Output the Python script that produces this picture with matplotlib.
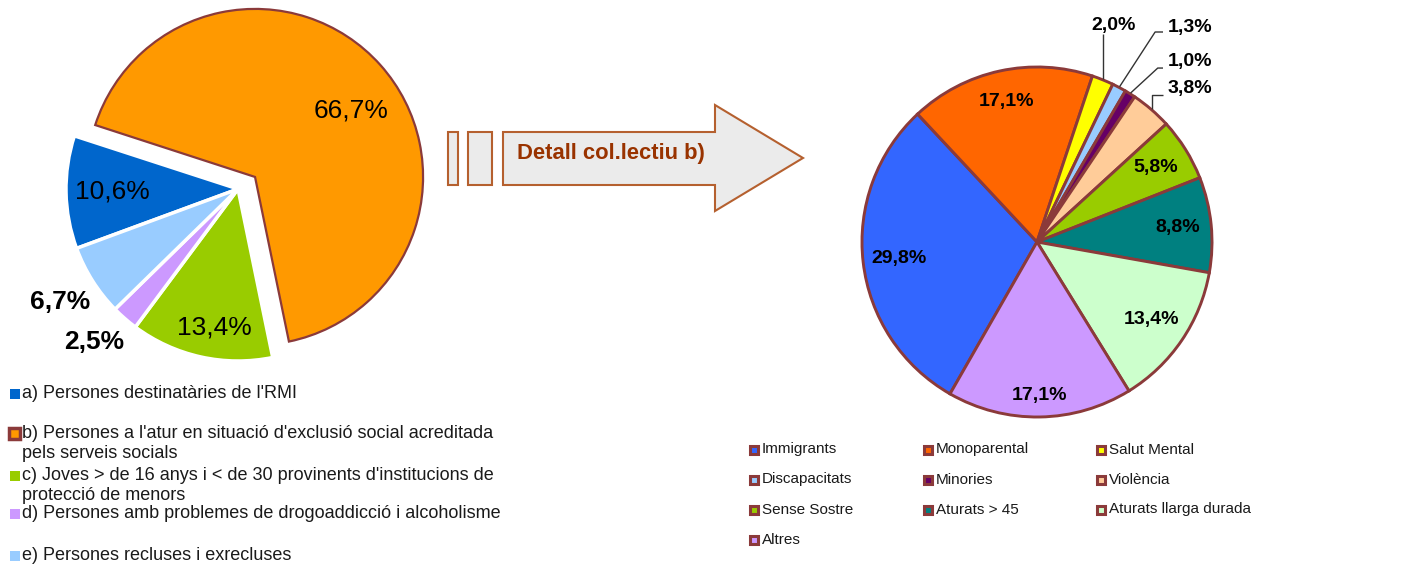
import matplotlib
matplotlib.use('Agg')
import matplotlib.pyplot as plt
import numpy as np
from matplotlib.patches import Rectangle, Polygon

plt.rcParams['font.family'] = ['Liberation Sans', 'DejaVu Sans']

W, H = 1422, 570

# ---------------- data ----------------
left_labels = [
    "a) Persones destinatàries de l'RMI",
    "b) Persones a l'atur en situació d'exclusió social acreditada\npels serveis socials",
    "c) Joves > de 16 anys i < de 30 provinents d'institucions de\nprotecció de menors",
    "d) Persones amb problemes de drogoaddicció i alcoholisme",
    "e) Persones recluses i exrecluses",
]
left_values = [10.6, 66.7, 13.4, 2.5, 6.7]
left_colors = ['#0066CC', '#FF9900', '#99CC00', '#CC99FF', '#99CCFF']

right_labels = ['Immigrants', 'Monoparental', 'Salut Mental', 'Discapacitats',
                'Minories', 'Violència', 'Sense Sostre', 'Aturats > 45',
                'Aturats llarga durada', 'Altres']
right_values = [29.8, 17.1, 2.0, 1.3, 1.0, 3.8, 5.8, 8.8, 13.4, 17.1]
right_colors = ['#3366FF', '#FF6600', '#FFFF00', '#99CCFF', '#660066',
                '#FFCC99', '#99CC00', '#008080', '#CCFFCC', '#CC99FF']

arrow_text = 'Detall col.lectiu b)'

BROWN = '#8B3A3A'
TXT = '#1a1a1a'


def fmt(v):
    return f"{v:.1f}%".replace('.', ',')


fig = plt.figure(figsize=(W / 100, H / 100), dpi=100)

# overlay axes in pixel coordinates (y downward)
ov = fig.add_axes([0, 0, 1, 1])
ov.set_xlim(0, W)
ov.set_ylim(H, 0)
ov.axis('off')

K = 1.5


def pie_axes(cx, cy, r):
    ax = fig.add_axes([(cx - K * r) / W, 1 - (cy + K * r) / H,
                       2 * K * r / W, 2 * K * r / H])
    return ax


def finish(ax):
    ax.set_xlim(-K, K)
    ax.set_ylim(-K, K)
    ax.set_aspect('equal')
    ax.axis('off')


# ---------------- left pie ----------------
axL = pie_axes(238, 189, 172)
wL, _ = axL.pie(left_values, colors=left_colors, startangle=200.2,
                counterclock=False,
                wedgeprops=dict(edgecolor='white', linewidth=2.5))
# pulled-out slice b)
wL[1].set_center((0.099, 0.070))
wL[1].set_radius(0.977)
wL[1].set_edgecolor(BROWN)
wL[1].set_linewidth(1.6)
finish(axL)

layoutL = {0: (0.73, 0, 'normal'), 1: (0.68, -7, 'normal'),
           2: (0.82, 2.7, 'normal'), 3: (1.22, -2, 'bold'),
           4: (1.225, 0, 'bold')}
for i, w in enumerate(wL):
    d, sh, wt = layoutL[i]
    ang = np.deg2rad((w.theta1 + w.theta2) / 2 + sh)
    cx, cy = w.center
    axL.text(cx + d * np.cos(ang), cy + d * np.sin(ang), fmt(left_values[i]),
             ha='center', va='center', fontsize=19, fontweight=wt, color='black')

# ---------------- right pie ----------------
axR = pie_axes(1037, 242, 175)
wR, _ = axR.pie(right_values, colors=right_colors, startangle=240.2,
                counterclock=False,
                wedgeprops=dict(edgecolor=BROWN, linewidth=2.1))
finish(axR)

inside = {0: 0.795, 1: 0.82, 6: 0.80, 7: 0.81, 8: 0.79, 9: 0.88}
for i, d in inside.items():
    w = wR[i]
    ang = np.deg2rad((w.theta1 + w.theta2) / 2)
    axR.text(d * np.cos(ang), d * np.sin(ang), fmt(right_values[i]),
             ha='center', va='center', fontsize=14, fontweight='bold', color='black')

# outside labels with leader lines
outside = {
    2: ('vert', 1.19, None, (0.44, 1.235), 'center'),
    3: ('elbow', 1.20, 0.675, (0.745, 1.228), 'left'),
    4: ('elbow', 0.994, 0.69, (0.745, 1.03), 'left'),
    5: ('vert', 0.84, 0.72, (0.745, 0.877), 'left'),
}
for i, (kind, ly, lx, tpos, ha) in outside.items():
    w = wR[i]
    ang = np.deg2rad((w.theta1 + w.theta2) / 2)
    ax0, ay0 = 1.005 * np.cos(ang), 1.005 * np.sin(ang)
    if kind == 'vert':
        xs = [ax0, ax0]
        ys = [ay0, ly]
        if lx is not None:
            xs.append(lx)
            ys.append(ly)
    else:
        xs = [ax0, lx, 0.72]
        ys = [ay0, ly, ly]
    axR.plot(xs, ys, color='#333333', lw=1.0, solid_capstyle='butt')
    axR.text(tpos[0], tpos[1], fmt(right_values[i]), ha=ha, va='center',
             fontsize=14, fontweight='bold', color='black')

# ---------------- arrow ----------------
arrow_edge = '#B5602F'
arrow_face = '#EBEBEB'
ov.add_patch(Rectangle((448, 132), 10, 53, facecolor=arrow_face,
                       edgecolor=arrow_edge, lw=1.5))
ov.add_patch(Rectangle((468, 132), 24, 53, facecolor=arrow_face,
                       edgecolor=arrow_edge, lw=1.5))
ov.add_patch(Polygon([(503, 132), (715, 132), (715, 105), (803, 158),
                      (715, 211), (715, 185), (503, 185)], closed=True,
                     facecolor=arrow_face, edgecolor=arrow_edge, lw=1.5))
ov.text(517, 153, arrow_text, ha='left', va='center', fontsize=15.8,
        fontweight='bold', color='#993300')

# ---------------- left legend ----------------
rows_y = [393, 433, 475, 513, 555]
for i, (lab, y) in enumerate(zip(left_labels, rows_y)):
    if i == 1:
        ov.add_patch(Rectangle((9, y - 5.5), 11, 11, facecolor=left_colors[i],
                               edgecolor=BROWN, lw=2.5))
    else:
        ov.add_patch(Rectangle((9.5, y - 4.5), 10, 10, facecolor=left_colors[i],
                               edgecolor='none'))
    for j, line in enumerate(lab.split('\n')):
        ov.text(22.5, y + j * 21, line, ha='left', va='center', fontsize=13,
                color=TXT)

# ---------------- right legend ----------------
col_x = [748, 922, 1095]
row_y = [449.5, 479.5, 509.5, 539.5]
for i, lab in enumerate(right_labels):
    r, c = divmod(i, 3)
    x, y = col_x[c], row_y[r]
    ov.add_patch(Rectangle((x + 1.5, y - 4), 8, 8, facecolor=right_colors[i],
                           edgecolor=BROWN, lw=2.2))
    ov.text(x + 14, y, lab, ha='left', va='center', fontsize=11, color=TXT)

fig.savefig('out.png', dpi=100)
